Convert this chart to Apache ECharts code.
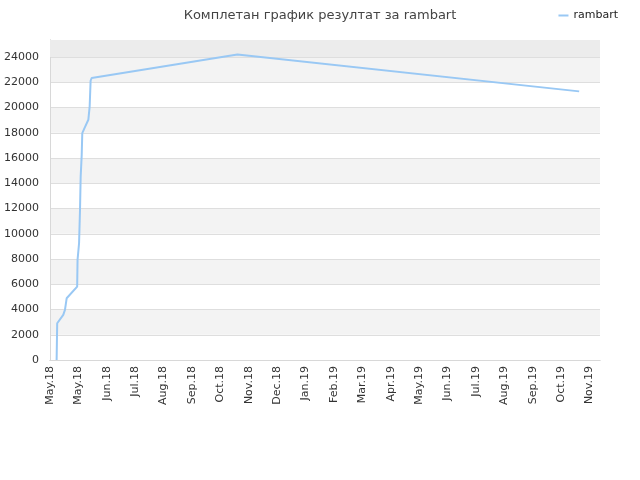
<!DOCTYPE html>
<html>
<head>
<meta charset="utf-8">
<script src="https://cdn.jsdelivr.net/npm/echarts@6/dist/echarts.min.js"></script>
<style>html,body{margin:0;padding:0;background:#fff}#c{width:640px;height:480px}</style>
</head>
<body>
<div id="c"></div>
<script>
// start of the time axis (day 0)
var startDate = '2018-05-01';
// days since startDate for each point
var days = [7, 7.6, 14, 15.8, 17.6, 28.7, 29.1, 30.7, 31.7, 32.4, 33.5, 34.1, 36.9, 40.5, 41.2, 41.9, 42.9, 44, 198, 559];
// result values
var values = [0, 2910, 3570, 3970, 4890, 5810, 7930, 9250, 11890, 14530, 16250, 17970, 18450, 19030, 19560, 20080, 22120, 22340, 24210, 21280];
var monthNames = ['Jan','Feb','Mar','Apr','May','Jun','Jul','Aug','Sep','Oct','Nov','Dec'];
var seriesName = 'rambart';
var titleText = 'Комплетан график резултат за rambart';

var start = new Date(startDate + 'T00:00:00Z').getTime();
var data = days.map(function (d, i) { return [d, values[i]]; });
var borderLine = { show: true, lineStyle: { color: '#d8d8d8', width: 1 } };

var chart = echarts.init(document.getElementById('c'));
chart.setOption({
  animation: false,
  textStyle: { fontFamily: 'DejaVu Sans' },
  title: {
    text: titleText, left: 'center', top: 4,
    textStyle: { fontSize: 13, fontWeight: 'normal', color: '#444', fontFamily: 'DejaVu Sans' }
  },
  legend: {
    data: [seriesName], right: 17, top: 5, icon: 'rect', itemWidth: 10, itemHeight: 2, itemGap: 8,
    textStyle: { fontSize: 11, color: '#222' }
  },
  grid: { left: 50, right: 40, top: 40, bottom: 120 },
  xAxis: [{
    type: 'value', min: 0, max: 581, interval: 30,
    axisLine: borderLine, axisTick: { show: false }, splitLine: { show: false },
    axisLabel: {
      rotate: 90, fontSize: 11, color: '#333', margin: 6, showMaxLabel: false,
      formatter: function (v) {
        if (v % 30 !== 0) return '';
        var d = new Date(start + v * 86400000);
        return monthNames[d.getUTCMonth()] + '.' + String(d.getUTCFullYear()).slice(2);
      }
    }
  }, {
    type: 'value', position: 'top', min: 0, max: 581,
    axisLine: borderLine, axisTick: { show: false }, axisLabel: { show: false }, splitLine: { show: false }
  }],
  yAxis: [{
    type: 'value', min: 0, max: 25350, interval: 2000,
    axisLine: borderLine, axisTick: { show: false },
    axisLabel: { fontSize: 11, color: '#333', margin: 11, showMaxLabel: false,
      formatter: function (v) { return v % 2000 === 0 ? String(v) : ''; } },
    splitLine: { lineStyle: { color: '#dedede' } },
    splitArea: { show: true, areaStyle: { color: ['#ffffff', '#f3f3f3'] } }
  }, {
    type: 'value', position: 'right', min: 0, max: 25350,
    axisLine: borderLine, axisTick: { show: false }, axisLabel: { show: false }, splitLine: { show: false }
  }],
  series: [{
    name: seriesName, type: 'line', data: data, showSymbol: false,
    lineStyle: { width: 2, color: '#99c8f4' }, itemStyle: { color: '#99c8f4' },
    markArea: { silent: true, itemStyle: { color: '#ececec' }, data: [[{ yAxis: 24000 }, { yAxis: 25350 }]] }
  }]
});
</script>
</body>
</html>
